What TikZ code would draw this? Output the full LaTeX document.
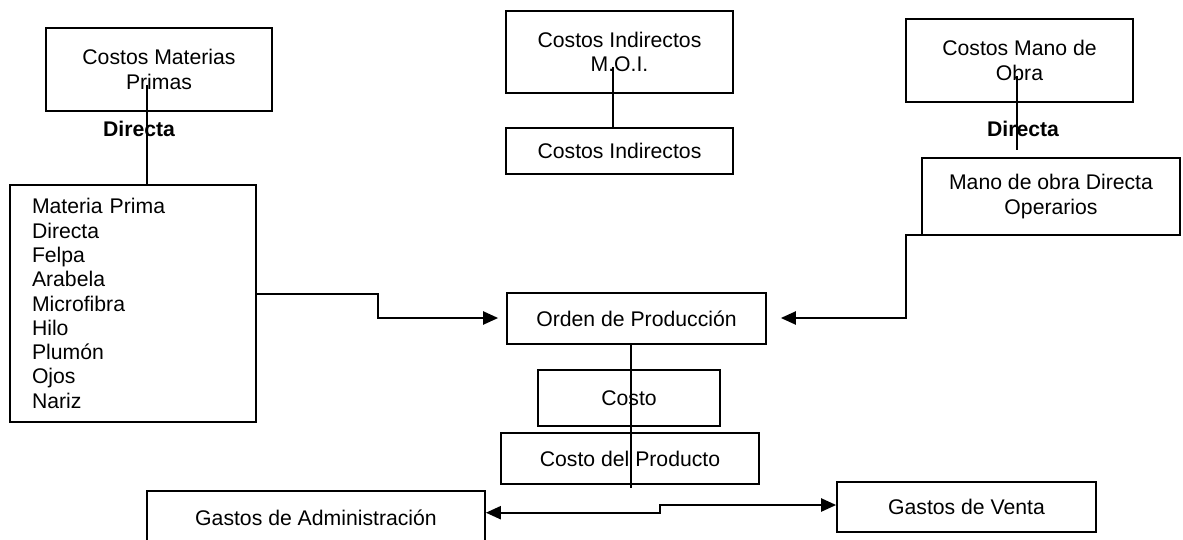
\documentclass[tikz,border=0pt]{standalone}
\usepackage{fontspec}
\setmainfont{Liberation Sans}
\usetikzlibrary{arrows.meta}
\begin{document}
\begin{tikzpicture}[x=1pt,y=-1pt,
  box/.style={draw, line width=1.7pt, inner sep=0pt, align=center,
    font=\fontsize{21.2}{24.3}\selectfont},
  lbl/.style={inner sep=0pt, font=\fontsize{21.2}{24.3}\selectfont\bfseries},
  link/.style={line width=1.5pt},
  flow/.style={line width=2.2pt, -{Triangle[length=15pt,width=13pt]}},
  both/.style={line width=2.2pt, {Triangle[length=15pt,width=13pt]}-{Triangle[length=15pt,width=13pt]}}]
\useasboundingbox (0,0) rectangle (1183,539);

% boxes
\node[box, minimum width=226, minimum height=83] (cmp) at (159,69.5) {Costos Materias\\Primas};
\node[box, minimum width=227, minimum height=82] (cim) at (619.5,52) {Costos Indirectos\\M.O.I.};
\node[box, minimum width=227, minimum height=46] (ci) at (619.5,151) {Costos Indirectos};
\node[box, minimum width=227, minimum height=83] (cmo) at (1019.5,60.5) {Costos Mano de\\Obra};
\node[box, minimum width=258, minimum height=77] (mod) at (1051,196.5) {Mano de obra Directa\\Operarios};
\node[box, minimum width=246, minimum height=237, text width=202, align=left] (mp) at (133,303.5)
  {Materia Prima\\Directa\\Felpa\\Arabela\\Microfibra\\Hilo\\Plumón\\Ojos\\Nariz};
\node[box, minimum width=259, minimum height=51] (op) at (636.5,318.5) {Orden de Producción};
\node[box, minimum width=182, minimum height=56] (costo) at (629,398) {Costo};
\node[box, minimum width=258, minimum height=51] (cdp) at (630,458.5) {Costo del Producto};
\node[box, minimum width=338, minimum height=54] (ga) at (316,518) {Gastos de Administración};
\node[box, minimum width=259, minimum height=50] (gv) at (966.5,507) {Gastos de Venta};

% labels on the direct links
\node[lbl] (d1) at (139,129) {Directa};
\node[lbl] (d2) at (1023,129) {Directa};

% plain links
\coordinate (cmpin) at (147,85);
\draw[link] (cmpin) -- (cmpin |- mp.north);
\coordinate (cimin) at (613,67);
\draw[link] (cimin) -- (cimin |- ci.north);
\coordinate (cmoin) at (1017,76);
\coordinate (cmoend) at (1017,150);
\draw[link] (cmoin) -- (cmoend);
\coordinate (opout) at (631,344);
\coordinate (opend) at (631,488);
\draw[link] (opout) -- (opend);

% flows into the production order
\draw[flow, shorten >=8pt] (mp.east |- 0,294) -- (378,294) -- (378,318) -- (op.west |- 0,318);
\draw[flow, shorten >=14pt] (1033,235) -- (906,235) -- (906,318) -- (op.east |- 0,318);

% expenses
\draw[both] (ga.east |- 0,512.7) -- (660,512.7) -- (660,505) -- (gv.west |- 0,505);
\end{tikzpicture}
\end{document}
